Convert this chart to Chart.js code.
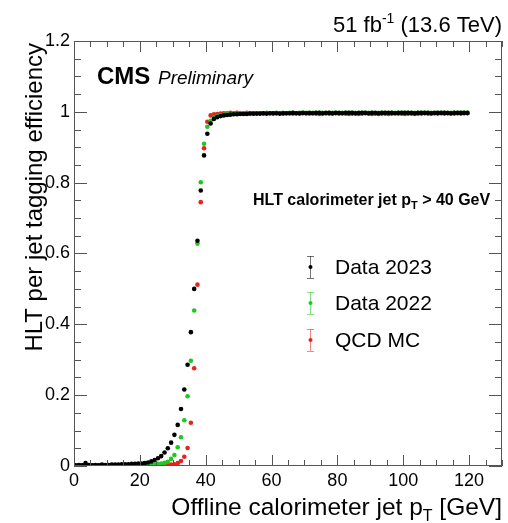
<!DOCTYPE html>
<html>
<head>
<meta charset="utf-8">
<script src="https://cdn.jsdelivr.net/npm/chart.js@4"></script>
<style>
html,body{margin:0;padding:0;background:#fff;}
#wrap{width:508px;height:523px;position:relative;}
</style>
</head>
<body>
<div id="wrap"><canvas id="c"></canvas></div>
<script>
// ---------------- data ----------------
const binCenters = [
  0.5,1.5,2.5,3.5,4.5,5.5,6.5,7.5,8.5,9.5,
  10.5,11.5,12.5,13.5,14.5,15.5,16.5,17.5,18.5,19.5,
  20.5,21.5,22.5,23.5,24.5,25.5,26.5,27.5,28.5,29.5,
  30.5,31.5,32.5,33.5,34.5,35.5,36.5,37.5,38.5,39.5,
  40.5,41.5,42.5,43.5,44.5,45.5,46.5,47.5,48.5,49.5,
  50.5,51.5,52.5,53.5,54.5,55.5,56.5,57.5,58.5,59.5,
  60.5,61.5,62.5,63.5,64.5,65.5,66.5,67.5,68.5,69.5,
  70.5,71.5,72.5,73.5,74.5,75.5,76.5,77.5,78.5,79.5,
  80.5,81.5,82.5,83.5,84.5,85.5,86.5,87.5,88.5,89.5,
  90.5,91.5,92.5,93.5,94.5,95.5,96.5,97.5,98.5,99.5,
  100.5,101.5,102.5,103.5,104.5,105.5,106.5,107.5,108.5,109.5,
  110.5,111.5,112.5,113.5,114.5,115.5,116.5,117.5,118.5,119.5
];
const data2023 = [
  0.002,0.003,0.002,0.008,0.003,0.002,0.003,0.002,0.004,0.003,
  0.003,0.004,0.004,0.004,0.005,0.005,0.005,0.006,0.006,0.007,
  0.007,0.008,0.010,0.013,0.017,0.022,0.028,0.038,0.050,0.066,
  0.088,0.116,0.161,0.216,0.286,0.378,0.500,0.636,0.778,0.877,
  0.938,0.967,0.980,0.985,0.988,0.990,0.991,0.992,0.993,0.993,
  0.994,0.994,0.994,0.995,0.995,0.995,0.995,0.996,0.995,0.996,
  0.996,0.996,0.995,0.996,0.996,0.996,0.997,0.996,0.996,0.997,
  0.996,0.997,0.996,0.997,0.997,0.996,0.997,0.997,0.996,0.997,
  0.997,0.996,0.997,0.997,0.997,0.996,0.997,0.997,0.997,0.996,
  0.997,0.997,0.996,0.997,0.997,0.997,0.997,0.996,0.997,0.997,
  0.997,0.997,0.997,0.996,0.997,0.997,0.997,0.997,0.996,0.997,
  0.997,0.997,0.997,0.997,0.996,0.997,0.997,0.997,0.997,0.997
];
const data2022 = [
  0.001,0.002,0.001,0.002,0.001,0.002,0.001,0.002,0.002,0.001,
  0.002,0.002,0.002,0.002,0.002,0.002,0.003,0.002,0.003,0.003,
  0.003,0.003,0.004,0.004,0.005,0.006,0.007,0.009,0.012,0.020,
  0.031,0.053,0.081,0.129,0.197,0.297,0.439,0.628,0.801,0.910,
  0.958,0.975,0.984,0.988,0.990,0.992,0.993,0.993,0.994,0.994,
  0.995,0.995,0.995,0.996,0.995,0.996,0.996,0.996,0.997,0.996,
  0.996,0.997,0.996,0.997,0.996,0.997,0.997,0.996,0.997,0.997,
  0.997,0.996,0.997,0.997,0.997,0.997,0.996,0.997,0.997,0.997,
  0.996,0.997,0.997,0.997,0.997,0.997,0.996,0.997,0.997,0.997,
  0.997,0.996,0.997,0.997,0.997,0.996,0.997,0.997,0.997,0.997,
  0.997,0.997,0.996,0.997,0.997,0.997,0.997,0.997,0.997,0.996,
  0.997,0.997,0.997,0.996,0.997,0.997,0.997,0.997,0.997,0.997
];
const dataQCD = [
  0.000,0.001,0.001,0.001,0.000,0.001,0.001,0.001,0.001,0.001,
  0.001,0.001,0.001,0.001,0.001,0.002,0.001,0.002,0.002,0.002,
  0.002,0.002,0.002,0.002,0.003,0.003,0.003,0.003,0.004,0.004,
  0.005,0.008,0.014,0.026,0.051,0.122,0.276,0.512,0.745,0.897,
  0.972,0.990,0.993,0.994,0.995,0.996,0.996,0.997,0.996,0.997,
  0.996,0.996,0.997,0.996,0.995,0.996,0.996,0.995,0.996,0.996,
  0.995,0.996,0.996,0.995,0.996,0.996,0.995,0.996,0.995,0.996,
  0.996,0.995,0.996,0.995,0.994,0.995,0.996,0.995,0.995,0.996,
  0.995,0.996,0.995,0.994,0.995,0.995,0.994,0.995,0.996,0.995,
  0.994,0.995,0.994,0.995,0.995,0.994,0.995,0.996,0.995,0.995,
  0.994,0.995,0.995,0.994,0.995,0.995,0.996,0.995,0.995,0.996,
  0.995,0.996,0.995,0.996,0.995,0.995,0.996,0.995,0.996,0.996
];
const seriesLabels = ['Data 2023', 'Data 2022', 'QCD MC'];
const xTickValues = [0, 20, 40, 60, 80, 100, 120];
const yTickValues = [0, 0.2, 0.4, 0.6, 0.8, 1, 1.2];

// ---------------- styles ----------------
const FONT = '"Liberation Sans", Arial, Helvetica, sans-serif';
const COLORS = ['#000000', '#1fc81f', '#e8231e'];
const ERRCOLORS = ['rgba(0,0,0,0.55)', 'rgba(31,200,31,0.55)', 'rgba(232,35,30,0.55)'];

function pts(ys) { return ys.map((y, i) => ({ x: binCenters[i], y: y })); }

function drawParts(ctx, parts, x, y, align) {
  let total = 0;
  parts.forEach(p => {
    ctx.font = (p.style || '') + ' ' + (p.weight || '') + ' ' + p.size + 'px ' + FONT;
    p.w = ctx.measureText(p.t).width;
    total += p.w;
  });
  let cx = align === 'right' ? x - total : x;
  ctx.textAlign = 'left';
  ctx.textBaseline = 'alphabetic';
  parts.forEach(p => {
    ctx.font = (p.style || '') + ' ' + (p.weight || '') + ' ' + p.size + 'px ' + FONT;
    ctx.fillText(p.t, cx, y + (p.dy || 0));
    cx += p.w;
  });
}

const framePlugin = {
  id: 'frame',
  afterDatasetsDraw(chart) {
    const ctx = chart.ctx, a = chart.chartArea;
    const xs = chart.scales.x, ys = chart.scales.y;
    ctx.save();
    ctx.strokeStyle = '#555';
    ctx.lineWidth = 1;
    ctx.strokeRect(a.left + 0.5, a.top + 0.5, a.right - a.left - 1, a.bottom - a.top - 1);
    ctx.beginPath();
    for (let v = 0; v <= 130 + 1e-9; v += 5) {
      const px = Math.round(xs.getPixelForValue(v)) + 0.5;
      const len = (Math.abs(v % 20) < 1e-9) ? 11 : 6;
      ctx.moveTo(px, a.bottom); ctx.lineTo(px, a.bottom - len);
      ctx.moveTo(px, a.top); ctx.lineTo(px, a.top + len);
    }
    for (let k = 0; k <= 24; k++) {
      const v = k * 0.05;
      const py = Math.round(ys.getPixelForValue(v)) + 0.5;
      const len = (k % 4 === 0) ? 13 : 7;
      ctx.moveTo(a.left, py); ctx.lineTo(a.left + len, py);
      ctx.moveTo(a.right, py); ctx.lineTo(a.right - len, py);
    }
    ctx.stroke();
    ctx.restore();
  },
  afterDraw(chart) {
    const ctx = chart.ctx;
    ctx.save();
    ctx.fillStyle = '#000';
    // top right lumi label
    drawParts(ctx, [
      { t: '51 fb', size: 22 },
      { t: '-1', size: 14, dy: -9 },
      { t: ' (13.6 TeV)', size: 22 }
    ], 502, 32, 'right');
    // CMS Preliminary
    drawParts(ctx, [{ t: 'CMS', size: 24, weight: 'bold' }], 97, 84, 'left');
    drawParts(ctx, [{ t: 'Preliminary', size: 19, style: 'italic' }], 158, 84, 'left');
    // selection label
    drawParts(ctx, [
      { t: 'HLT calorimeter jet p', size: 16, weight: 'bold' },
      { t: 'T', size: 11, weight: 'bold', dy: 4 },
      { t: ' > 40 GeV', size: 16, weight: 'bold' }
    ], 253, 205, 'left');
    // x axis title
    drawParts(ctx, [
      { t: 'Offline calorimeter jet p', size: 24.5 },
      { t: 'T', size: 16, dy: 6 },
      { t: ' [GeV]', size: 24.5 }
    ], 502, 515, 'right');
    // y axis title
    ctx.save();
    ctx.translate(42, 0);
    ctx.rotate(-Math.PI / 2);
    ctx.font = '24px ' + FONT;
    ctx.textAlign = 'right';
    ctx.textBaseline = 'alphabetic';
    ctx.fillText('HLT per jet tagging efficiency', -43, 0);
    ctx.restore();
    // legend
    const legX = 310, legTextX = 335, legY = [267, 303, 340];
    chart.data.datasets.forEach((ds, i) => {
      const y = legY[i];
      ctx.strokeStyle = ERRCOLORS[i];
      ctx.lineWidth = 1;
      ctx.beginPath();
      ctx.moveTo(legX + 0.5, y - 11); ctx.lineTo(legX + 0.5, y + 11);
      ctx.moveTo(legX - 3, y - 11 + 0.5); ctx.lineTo(legX + 4, y - 11 + 0.5);
      ctx.moveTo(legX - 3, y + 11 + 0.5); ctx.lineTo(legX + 4, y + 11 + 0.5);
      ctx.stroke();
      ctx.fillStyle = COLORS[i];
      ctx.beginPath();
      ctx.arc(legX + 0.5, y, 2, 0, Math.PI * 2);
      ctx.fill();
      ctx.fillStyle = '#000';
      ctx.font = '21px ' + FONT;
      ctx.textAlign = 'left';
      ctx.textBaseline = 'middle';
      ctx.fillText(ds.label, legTextX, y + 1);
    });
    ctx.restore();
  }
};

new Chart(document.getElementById('c'), {
  type: 'scatter',
  data: {
    datasets: [
      { label: seriesLabels[0], data: pts(data2023), backgroundColor: COLORS[0], borderWidth: 0, pointRadius: 2.3 },
      { label: seriesLabels[1], data: pts(data2022), backgroundColor: COLORS[1], borderWidth: 0, pointRadius: 2.3 },
      { label: seriesLabels[2], data: pts(dataQCD), backgroundColor: COLORS[2], borderWidth: 0, pointRadius: 2.3 }
    ]
  },
  options: {
    responsive: true,
    maintainAspectRatio: false,
    animation: false,
    layout: { padding: { top: 41, right: 6, left: 0, bottom: 0 } },
    plugins: { legend: { display: false }, tooltip: { enabled: false } },
    scales: {
      x: {
        type: 'linear', min: 0, max: 130,
        afterBuildTicks: s => { s.ticks = xTickValues.map(v => ({ value: v })); },
        afterFit: s => { s.height = 57; },
        grid: { display: false, drawTicks: false },
        border: { display: false },
        ticks: { color: '#000', font: { size: 18, family: FONT }, padding: 4, maxRotation: 0, autoSkip: false }
      },
      y: {
        type: 'linear', min: 0, max: 1.2,
        afterBuildTicks: s => { s.ticks = yTickValues.map(v => ({ value: v })); },
        afterFit: s => { s.width = 74; },
        grid: { display: false, drawTicks: false },
        border: { display: false },
        ticks: { color: '#000', font: { size: 18, family: FONT }, padding: 4, callback: v => String(+Number(v).toFixed(2)) }
      }
    }
  },
  plugins: [framePlugin]
});
</script>
</body>
</html>
